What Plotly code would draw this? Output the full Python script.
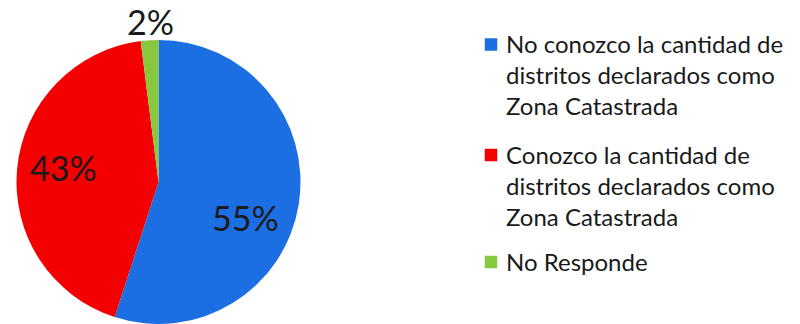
import math
import plotly.graph_objects as go

# Survey answers and their shares (%)
categories = [
    "No conozco la cantidad de<br>distritos declarados como<br>Zona Catastrada",
    "Conozco la cantidad de<br>distritos declarados como<br>Zona Catastrada",
    "No Responde",
]
shares = [55, 43, 2]
slice_colors = ["#1c6ee3", "#f40000", "#88c840"]

W, H = 800, 324
text_color = "#1a1a1a"
font_family = "Lato, 'Open Sans', sans-serif"

# Pie geometry in pixels
cx, cy, radius = 158.5, 182.0, 142.0

# Percentage label placement: radial fraction and angular nudge (degrees)
label_radius = [0.66, 0.68, 1.13]
label_shift = [13.5, 3.5, 0.6]

# Key layout (pixels): first-line centre of each entry, line pitch, swatch
key_first_line = [43.5, 154.0, 261.0]
key_font = 24
key_pitch = 1.3 * key_font
key_swatch_x = 491.0
key_swatch = 12.5
key_text_x = 504.0

fig = go.Figure(
    go.Pie(
        labels=categories,
        values=shares,
        sort=False,
        direction="clockwise",
        rotation=0,
        marker=dict(colors=slice_colors, line=dict(width=0)),
        textinfo="none",
        showlegend=False,
        domain=dict(
            x=[(cx - radius) / W, (cx + radius) / W],
            y=[max(0.0, 1 - (cy + radius) / H), 1 - (cy - radius) / H],
        ),
        hoverinfo="label+percent",
    )
)

# Percentage labels, placed along each slice's mid-angle
total = sum(shares)
start = 0.0
for value, rf, shift in zip(shares, label_radius, label_shift):
    sweep = 360.0 * value / total
    ang = math.radians(start + sweep / 2 + shift)
    start += sweep
    px = cx + rf * radius * math.sin(ang)
    py = cy - rf * radius * math.cos(ang)
    fig.add_annotation(
        x=px / W,
        y=1 - py / H,
        xref="paper",
        yref="paper",
        text=f"{value}%",
        showarrow=False,
        xanchor="center",
        yanchor="middle",
        font=dict(size=34, color=text_color, family=font_family),
    )

# Key: coloured swatch plus (multi-line) category text
for label, color, y0 in zip(categories, slice_colors, key_first_line):
    n_lines = label.count("<br>") + 1
    y_mid = y0 + (n_lines - 1) * key_pitch / 2
    fig.add_shape(
        type="rect",
        xref="paper",
        yref="paper",
        x0=(key_swatch_x - key_swatch / 2) / W,
        x1=(key_swatch_x + key_swatch / 2) / W,
        y0=1 - (y0 + 1 + key_swatch / 2) / H,
        y1=1 - (y0 + 1 - key_swatch / 2) / H,
        fillcolor=color,
        line=dict(width=0),
    )
    fig.add_annotation(
        x=key_text_x / W,
        y=1 - y_mid / H,
        xref="paper",
        yref="paper",
        text=label,
        showarrow=False,
        xanchor="left",
        yanchor="middle",
        align="left",
        font=dict(size=key_font, color=text_color, family=font_family),
    )

fig.update_layout(
    width=W,
    height=H,
    margin=dict(l=0, r=0, t=0, b=0),
    paper_bgcolor="white",
    plot_bgcolor="white",
    font=dict(family=font_family, color=text_color),
    showlegend=False,
)

fig.write_html("out.html")
